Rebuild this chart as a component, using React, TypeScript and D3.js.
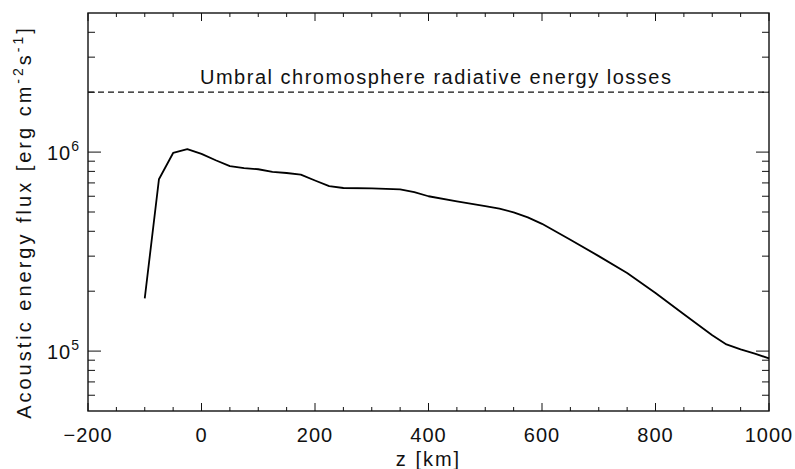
import React from "react";
import * as d3 from "d3";

const heights: number[] = [-100, -75, -50, -25, 0, 25, 50, 75, 100, 125, 150, 175, 200, 225, 250, 300, 350, 375, 400, 450, 500, 525, 550, 575, 600, 650, 700, 750, 800, 850, 900, 925, 950, 975, 1000];
const fluxValues: number[] = [1.84e5, 7.3e5, 9.9e5, 1.035e6, 9.8e5, 9.1e5, 8.5e5, 8.3e5, 8.2e5, 7.95e5, 7.85e5, 7.7e5, 7.2e5, 6.75e5, 6.6e5, 6.57e5, 6.5e5, 6.3e5, 6.0e5, 5.65e5, 5.35e5, 5.2e5, 4.98e5, 4.7e5, 4.36e5, 3.63e5, 3.0e5, 2.47e5, 1.96e5, 1.53e5, 1.2e5, 1.08e5, 1.02e5, 9.7e4, 9.2e4];
const lossLevel = 2e6;
const lossLabel = "Umbral chromosphere radiative energy losses";
const xMajorTicks: number[] = [-200, 0, 200, 400, 600, 800, 1000];
const yMajorTicks: number[] = [1e5, 1e6];
const yTickExponents: string[] = ["5", "6"];
const xDomain: [number, number] = [-200, 1000];
const yDomain: [number, number] = [5e4, 5e6];

export default function App() {
  const W = 795, H = 469;
  const L = 88, R = 769, T = 13, B = 411;
  const x = d3.scaleLinear().domain(xDomain).range([L, R]);
  const y = d3.scaleLog().domain(yDomain).range([B, T]);
  const line = d3.line<number>().x((_, i) => x(heights[i])).y((v) => y(v));
  const path = line(fluxValues) || "";

  const xMinor = d3.range(xDomain[0], xDomain[1] + 1, 50).filter((v) => !xMajorTicks.includes(v));
  const yMinor: number[] = [];
  for (let e = 4; e <= 6; e++) {
    for (let m = 2; m <= 9; m++) {
      const v = m * Math.pow(10, e);
      if (v > yDomain[0] * 1.0001 && v < yDomain[1] * 0.9999) yMinor.push(v);
    }
  }
  const font = "'Liberation Sans', Arial, sans-serif";
  const col = "#111";
  const sw = 1.4;
  return (
    <svg width={W} height={H} style={{ position: "absolute", left: 0, top: 0, background: "#fff" }} fontFamily={font}>
      <rect x={0} y={0} width={W} height={H} fill="#fff" />
      <rect x={L} y={T} width={R - L} height={B - T} fill="none" stroke={col} strokeWidth={sw} />
      {xMajorTicks.map((t) => (
        <g key={"xm" + t}>
          <line x1={x(t)} x2={x(t)} y1={B} y2={B - 8} stroke={col} strokeWidth={1} />
          <line x1={x(t)} x2={x(t)} y1={T} y2={T + 8} stroke={col} strokeWidth={1} />
          <text x={x(t)} y={442} textAnchor="middle" fontSize={20} fill={col} letterSpacing={1}>
            {t < 0 ? "\u2212" + Math.abs(t) : String(t)}
          </text>
        </g>
      ))}
      {xMinor.map((t) => (
        <g key={"xn" + t}>
          <line x1={x(t)} x2={x(t)} y1={B} y2={B - 4} stroke={col} strokeWidth={1} />
          <line x1={x(t)} x2={x(t)} y1={T} y2={T + 4} stroke={col} strokeWidth={1} />
        </g>
      ))}
      {yMajorTicks.map((t, i) => (
        <g key={"ym" + t}>
          <line x1={L} x2={L + 13} y1={y(t)} y2={y(t)} stroke={col} strokeWidth={1} />
          <line x1={R} x2={R - 13} y1={y(t)} y2={y(t)} stroke={col} strokeWidth={1} />
          <text x={80} y={y(t) + 8} textAnchor="end" fontSize={20} fill={col} letterSpacing={1}>
            10<tspan fontSize={14} dy={-9}>{yTickExponents[i]}</tspan>
          </text>
        </g>
      ))}
      {yMinor.map((t) => (
        <g key={"yn" + t}>
          <line x1={L} x2={L + 7} y1={y(t)} y2={y(t)} stroke={col} strokeWidth={1} />
          <line x1={R} x2={R - 7} y1={y(t)} y2={y(t)} stroke={col} strokeWidth={1} />
        </g>
      ))}
      <line x1={L} x2={R} y1={y(lossLevel)} y2={y(lossLevel)} stroke={col} strokeWidth={1.2} strokeDasharray="6,4" />
      <text x={200} y={y(lossLevel) - 8} fontSize={20} fill={col} letterSpacing={1.5}>{lossLabel}</text>
      <path d={path} fill="none" stroke="#000" strokeWidth={1.8} strokeLinejoin="round" />
      <text x={(L + R) / 2} y={466} textAnchor="middle" fontSize={20} fill={col} letterSpacing={2}>z [km]</text>
      <text transform={`translate(31,${(T + B) / 2 + 10}) rotate(-90)`} textAnchor="middle" fontSize={20} fill={col} letterSpacing={3}>
        Acoustic energy flux [erg cm<tspan fontSize={14} dy={-8}>-2</tspan><tspan dy={8}>s</tspan><tspan fontSize={14} dy={-8}>-1</tspan><tspan dy={8}>]</tspan>
      </text>
    </svg>
  );
}
